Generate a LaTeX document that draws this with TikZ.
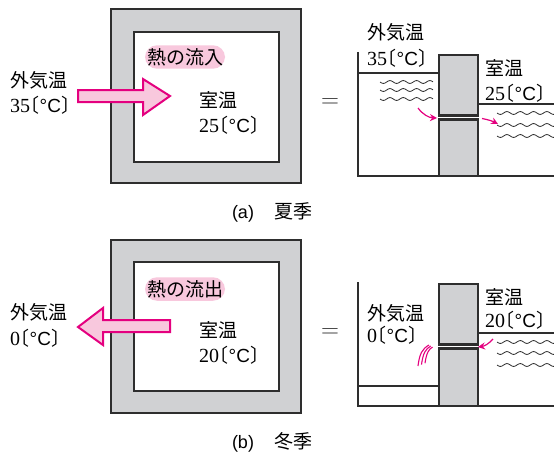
\documentclass[tikz,border=0pt]{standalone}
\usepackage{fontspec}
\setmainfont{Liberation Serif}
\setsansfont{Liberation Sans}
\newfontfamily\jp{Noto Sans CJK JP}
\newfontfamily\jpk[RawFeature=+halt]{Noto Sans CJK JP}
\usetikzlibrary{arrows.meta}

\definecolor{wallgray}{HTML}{D0D1D3}
\definecolor{linegray}{HTML}{2E2E2E}
\definecolor{heatpink}{HTML}{E4007F}
\definecolor{lightpink}{HTML}{F8C8DD}

\tikzset{
  wall/.style={fill=wallgray, draw=linegray, line width=2pt},
  room/.style={fill=white, draw=linegray, line width=2.4pt},
  tank/.style={draw=linegray, line width=2.2pt},
  jtext/.style={font=\jp\fontsize{19}{22}\selectfont, inner sep=0pt, anchor=west},
  pill/.style={fill=lightpink, rounded corners=12pt, inner xsep=2pt, inner ysep=3pt,
               font=\jp\fontsize{19}{22}\selectfont},
  bigarrow/.style={fill=lightpink, draw=heatpink, line width=2pt, line join=miter},
  wave/.style={linegray, line width=0.8pt},
  flow/.style={heatpink, line width=1.2pt, -{Stealth[length=7pt,width=7pt]}},
  eqsign/.style={font=\fontsize{27}{30}\selectfont, text=linegray},
  caption/.style={font=\jp\fontsize{19}{22}\selectfont, inner sep=0pt}
}
\newcommand{\degc}[1]{{\rmfamily\fontsize{20}{22}\selectfont #1}{\jpk 〔}{\sffamily\fontsize{19}{22}\selectfont°C}{\jpk 〕}}

\begin{document}
\begin{tikzpicture}[x=1pt,y=-1pt]
\useasboundingbox (0,0) rectangle (554,452);

% ---- summer: house and inflow
\draw[wall] (111,9.5) rectangle (301,183);
\draw[room] (134,32) rectangle (279,162);
\node[pill] (inA) at (185,57) {熱の流入};
\draw[bigarrow] (78,90) -- (143,90) -- (143,79) -- (170,96) -- (143,115) -- (143,102) -- (78,102) -- cycle;
\node[jtext] (outA) at (10,80) {外気温};
\node[jtext] (outAt) at (10,105) {\degc{35}};
\node[jtext] (roomA) at (199,100) {室温};
\node[jtext] (roomAt) at (199,125) {\degc{25}};
\node[eqsign] (eqA) at (330,103) {$=$};

% ---- summer: water levels
\draw[tank] (358,52) -- (358,176) -- (554,176);
\draw[tank] (358,73) -- (439,73);
\draw[tank] (478,104) -- (554,104);
\draw[wall, line width=2.2pt] (439,55) rectangle (478,115.5);
\draw[wall, line width=2.2pt] (439,119.5) rectangle (478,176);
\foreach \y in {82,90,99}
  \draw[wave, domain=0:53, samples=80] plot ({380+\x}, {\y+1.4*sin(\x/13.3*360)});
\foreach \y in {113,125,136}
  \draw[wave, domain=0:57, samples=80] plot ({497+\x}, {\y+1.4*sin(\x/13.3*360)});
\draw[flow] (418,108) to[bend right=25] (437,118);
\draw[flow] (482,118.5) to[bend left=8] (498,124);
\node[jtext] (tankOutA) at (367,32) {外気温};
\node[jtext] (tankOutAt) at (367,58) {\degc{35}};
\node[jtext] (tankRoomA) at (485,68) {室温};
\node[jtext] (tankRoomAt) at (485,93) {\degc{25}};

\node[caption] (capA) at (272,212) {{\sffamily\fontsize{18}{22}\selectfont(a)}\hspace{20pt}夏季};

% ---- winter: house and outflow
\draw[wall] (111,239.5) rectangle (301,413);
\draw[room] (134,262) rectangle (279,391);
\node[pill] (inB) at (185,289) {熱の流出};
\draw[bigarrow] (170,320) -- (103,320) -- (103,308) -- (78,327) -- (103,345) -- (103,332) -- (170,332) -- cycle;
\node[jtext] (outB) at (10,312) {外気温};
\node[jtext] (outBt) at (10,338) {\degc{0}};
\node[jtext] (roomB) at (199,330) {室温};
\node[jtext] (roomBt) at (199,355) {\degc{20}};
\node[eqsign] (eqB) at (330,333) {$=$};

% ---- winter: water levels
\draw[tank] (358,282) -- (358,406) -- (554,406);
\draw[tank] (358,386) -- (439,386);
\draw[tank] (478,333) -- (554,333);
\draw[wall, line width=2.2pt] (439,284) rectangle (478,344.5);
\draw[wall, line width=2.2pt] (439,348.5) rectangle (478,406);
\foreach \y in {342,353,365}
  \draw[wave, domain=0:57, samples=80] plot ({497+\x}, {\y+1.4*sin(\x/13.3*360)});
\draw[flow] (493,339) to[bend left=20] (478,347);
\foreach \d in {0,3.5,7}
  \draw[heatpink, line width=1.1pt] ({418+\d},{366-\d*0.4}) .. controls ({419.5+\d},{354-\d*0.2}) and ({422+\d},{349}) .. ({429+\d*0.5},{345+\d*0.3});
\node[jtext] (tankOutB) at (367,313) {外気温};
\node[jtext] (tankOutBt) at (367,335) {\degc{0}};
\node[jtext] (tankRoomB) at (485,297) {室温};
\node[jtext] (tankRoomBt) at (485,320) {\degc{20}};

\node[caption] (capB) at (272,442) {{\sffamily\fontsize{18}{22}\selectfont(b)}\hspace{20pt}冬季};
\end{tikzpicture}
\end{document}
